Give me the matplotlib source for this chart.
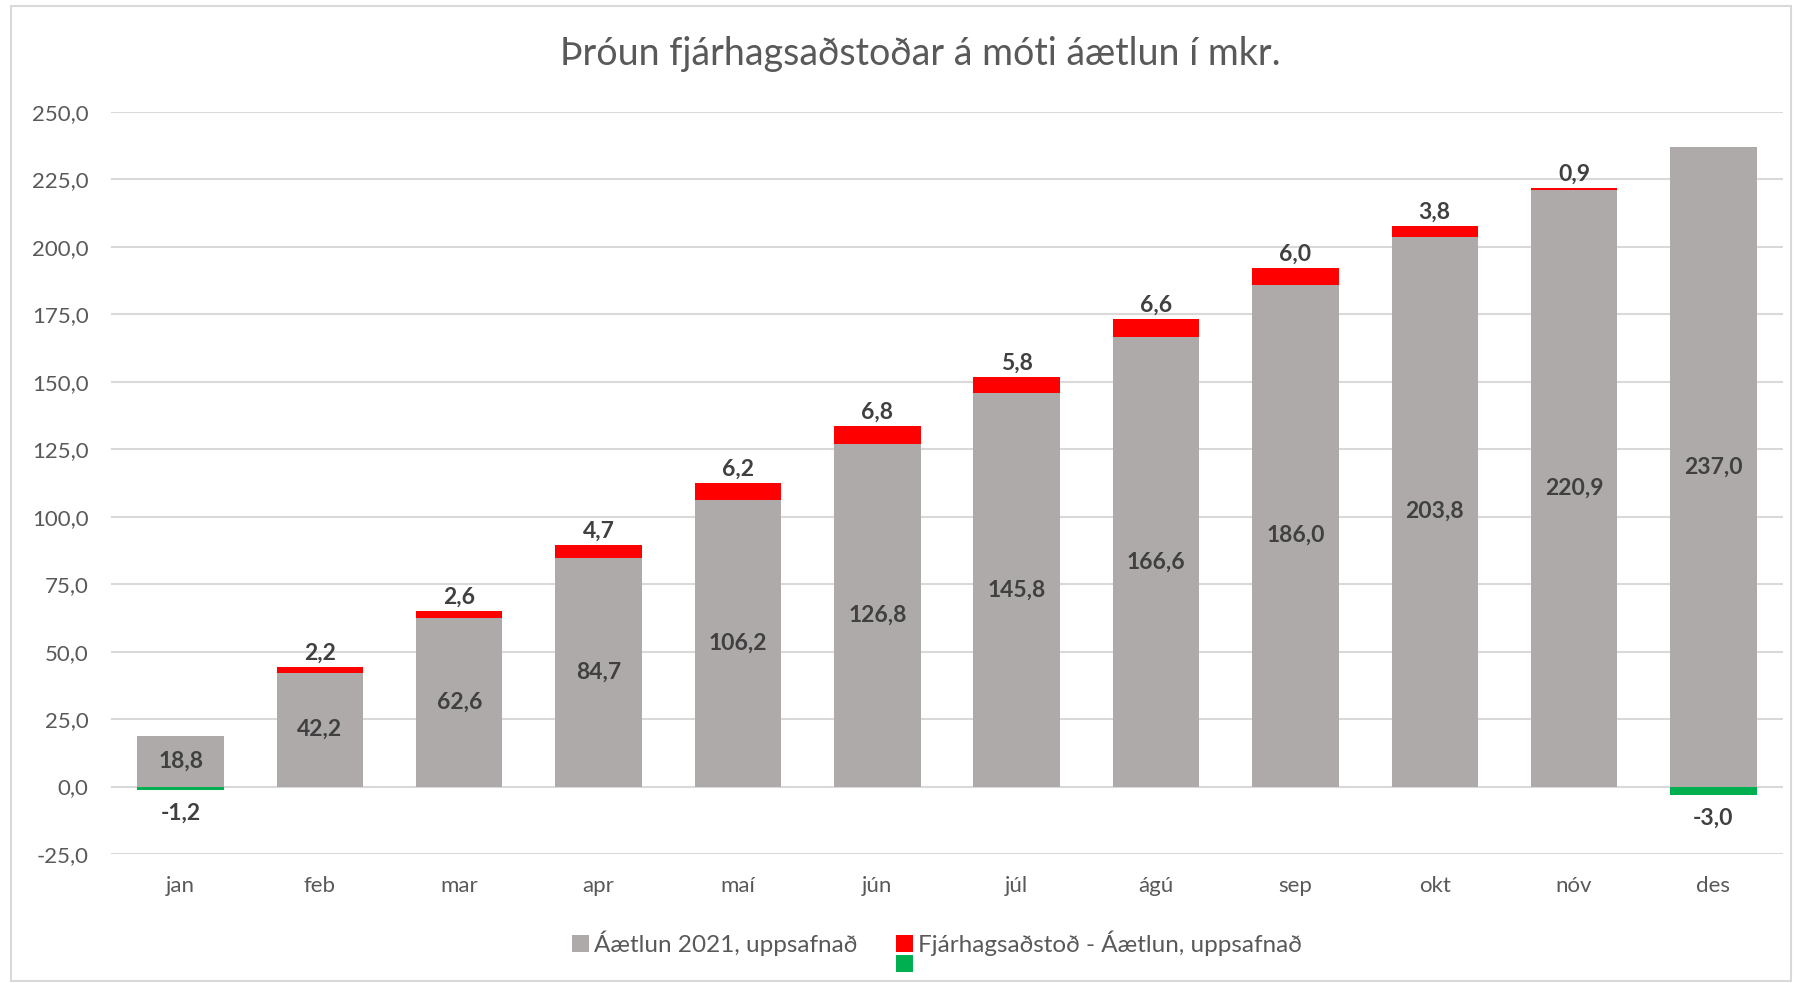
import numpy as np
import matplotlib
matplotlib.use('Agg')
import matplotlib.pyplot as plt
from matplotlib.patches import Rectangle

plt.rcParams['font.family'] = ['Lato', 'DejaVu Sans']

months = ["jan", "feb", "mar", "apr", "maí", "jún", "júl", "ágú", "sep", "okt", "nóv", "des"]
plan = [18.8, 42.2, 62.6, 84.7, 106.2, 126.8, 145.8, 166.6, 186.0, 203.8, 220.9, 237.0]
diff = [-1.2, 2.2, 2.6, 4.7, 6.2, 6.8, 5.8, 6.6, 6.0, 3.8, 0.9, -3.0]
yticks = [-25, 0, 25, 50, 75, 100, 125, 150, 175, 200, 225, 250]

GRAY = "#aeaaaa"
RED = "#ff0000"
GREEN = "#00b050"
TXT = "#595959"
LBL = "#404040"


def fmt(v):
    return "{:.1f}".format(v).replace(".", ",")


class SplitHandler:
    # red square on top, green one under it, like the excel legend
    def legend_artist(self, legend, orig_handle, fontsize, handlebox):
        x0, y0 = handlebox.xdescent, handlebox.ydescent
        h = handlebox.height
        tr = handlebox.get_transform()
        red = Rectangle((x0, y0), h, h, fc=RED, ec="none", transform=tr)
        green = Rectangle((x0, y0 - h * 1.15), h, h, fc=GREEN, ec="none", transform=tr)
        handlebox.add_artist(red)
        handlebox.add_artist(green)
        return red


fig = plt.figure(figsize=(17.98, 9.83), dpi=100)
ax = fig.add_axes([0.0617, 0.1312, 0.93, 0.755])

x = np.arange(len(months))
plan = np.array(plan)
diff = np.array(diff)
pos = np.where(diff > 0, diff, 0)
neg = np.where(diff < 0, diff, 0)
w = 0.62

b_plan = ax.bar(x, plan, w, color=GRAY, zorder=3, label="Áætlun 2021, uppsafnað")
ax.bar(x, pos, w, bottom=plan, color=RED, zorder=3)
ax.bar(x, neg, w, color=GREEN, zorder=3)

for i in range(len(x)):
    ax.annotate(fmt(plan[i]), (x[i], plan[i] / 2), ha="center", va="center",
                fontsize=16.5, fontweight="bold", color=LBL, zorder=4)
    if diff[i] > 0:
        ax.annotate(fmt(diff[i]), (x[i], plan[i] + diff[i]), xytext=(0, 10),
                    textcoords="offset points", ha="center", va="center",
                    fontsize=16.5, fontweight="bold", color=LBL, zorder=4)
    else:
        ax.annotate(fmt(diff[i]), (x[i], diff[i]), xytext=(0, -17),
                    textcoords="offset points", ha="center", va="center",
                    fontsize=16.5, fontweight="bold", color=LBL, zorder=4)

ax.set_xlim(-0.5, len(x) - 0.5)
ax.set_ylim(-25, 250)
ax.set_yticks(yticks)
ax.set_yticklabels([fmt(v) for v in yticks])
ax.set_xticks(x)
ax.set_xticklabels(months)
ax.tick_params(axis="both", length=0, colors=TXT, labelsize=16)
ax.tick_params(axis="x", pad=16)
ax.tick_params(axis="y", pad=16)
ax.grid(axis="y", color="#d9d9d9", linewidth=1.5, zorder=0)
for s in ax.spines.values():
    s.set_visible(False)

fig.text(0.512, 0.945, "Þróun fjárhagsaðstoðar á móti áætlun í mkr.", ha="center",
         va="center", fontsize=27, color=TXT)

red_proxy = Rectangle((0, 0), 1, 1, fc=RED)
fig.legend([b_plan, red_proxy], ["Áætlun 2021, uppsafnað", "Fjárhagsaðstoð - Áætlun, uppsafnað"],
           handler_map={Rectangle: SplitHandler()}, loc="center", bbox_to_anchor=(0.521, 0.04),
           ncol=2, frameon=False, fontsize=17.5, labelcolor=TXT, handlelength=0.7,
           handleheight=0.7, handletextpad=0.2, columnspacing=1.6)

# thin frame around the chart area
fig.patches.append(Rectangle((0.006, 0.002), 0.99, 0.992, transform=fig.transFigure,
                             fill=False, ec="#d9d9d9", lw=1.5))

fig.savefig("out.png", dpi=100)
